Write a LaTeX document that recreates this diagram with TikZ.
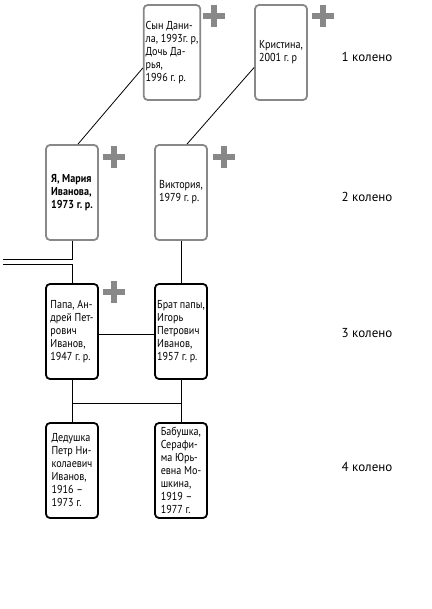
\documentclass[tikz,border=0pt]{standalone}
\usepackage{fontspec}
\setmainfont{PT Sans}
\newfontfamily\uzkij[FakeStretch=0.88]{PT Sans}
\usetikzlibrary{calc}
\definecolor{seryj}{RGB}{136,136,136}
\frenchspacing

\begin{document}
\begin{tikzpicture}[%
x=1pt, y=-1pt,
chelovek/.style={rectangle, rounded corners=4pt, line width=1.8pt,
  minimum width=52pt, minimum height=95pt, inner sep=2pt,
  align=left, font=\uzkij\fontsize{11.5}{13}\selectfont},
novyj/.style={chelovek, draw=seryj},
staryj/.style={chelovek, draw=black},
krest/.style={line width=6pt, draw=seryj},
svyaz/.style={line width=.8pt},
koleno/.style={font=\fontsize{13}{15}\selectfont},
]

\useasboundingbox (0,0) rectangle (431,609);

\pgfmathsetmacro{\levo}{72}
\pgfmathsetmacro{\pravo}{181}
\pgfmathsetmacro{\kolx}{367}
\pgfmathsetmacro{\polkresta}{11}

% 1 koleno
\node[novyj](syn)  at (172,52.5){Сын Дани-\\ла, 1993г. р,\\Дочь Да-\\рья,\\1996 г. р.};
\node[novyj](kris) at (281,52.5){Кристина,\\2001 г. р};

% 2 koleno
\node[novyj](ya)  at (\levo,192.5){\bfseries Я, Мария\\\bfseries Иванова,\\\bfseries 1973 г. р.};
\node[novyj](vik) at (\pravo,192.5){Виктория,\\1979 г. р.};

% 3 koleno
\node[staryj](papa) at (\levo,331.5){Папа, Ан-\\дрей Пет-\\рович\\Иванов,\\1947 г. р.};
\node[staryj](brat) at (\pravo,331.5){Брат папы,\\Игорь\\Петрович\\Иванов,\\1957 г. р.};

% 4 koleno
\node[staryj](ded) at (\levo,470.5){Дедушка\\Петр Ни-\\колаевич\\Иванов,\\1916 –\\1973 г.};
\node[staryj](bab) at (\pravo,470.5){Бабушка,\\Серафи-\\ма Юрь-\\евна Мо-\\шкина,\\1919 –\\1977 г.};

% kresty
\foreach \kx/\ky in {214/16, 323/16, 114/157, 224/157, 114/292}{
  \draw[krest] (\kx-\polkresta,\ky)--(\kx+\polkresta,\ky);
  \draw[krest] (\kx,\ky-\polkresta)--(\kx,\ky+\polkresta);
}

% podpisi kolen
\node[koleno](k1) at (\kolx,57){1 колено};
\node[koleno](k2) at (\kolx,197){2 колено};
\node[koleno](k3) at (\kolx,333){3 колено};
\node[koleno](k4) at (\kolx,467){4 колено};

% svyazi
\draw[svyaz] ([xshift=6pt]ya.north)--([yshift=-15.5pt]syn.west);
\draw[svyaz] ([xshift=6pt]vik.north)--([yshift=-15pt]kris.west);

\coordinate(kraj1) at (3,259);
\coordinate(kraj2) at (3,264);
\draw[svyaz] (ya.south) |- (kraj1);
\draw[svyaz] (kraj2) -| (papa.north);
\draw[svyaz] (vik.south)--(brat.north);

\draw[svyaz] ([yshift=-2.5pt]papa.east)--([yshift=-2.5pt]brat.west);
\draw[svyaz] (papa.south)--(ded.north);
\draw[svyaz] (brat.south)--(bab.north);
\coordinate(razvilka) at (\levo,403);
\draw[svyaz] (razvilka)--(razvilka -| bab.north);

\end{tikzpicture}
\end{document}
